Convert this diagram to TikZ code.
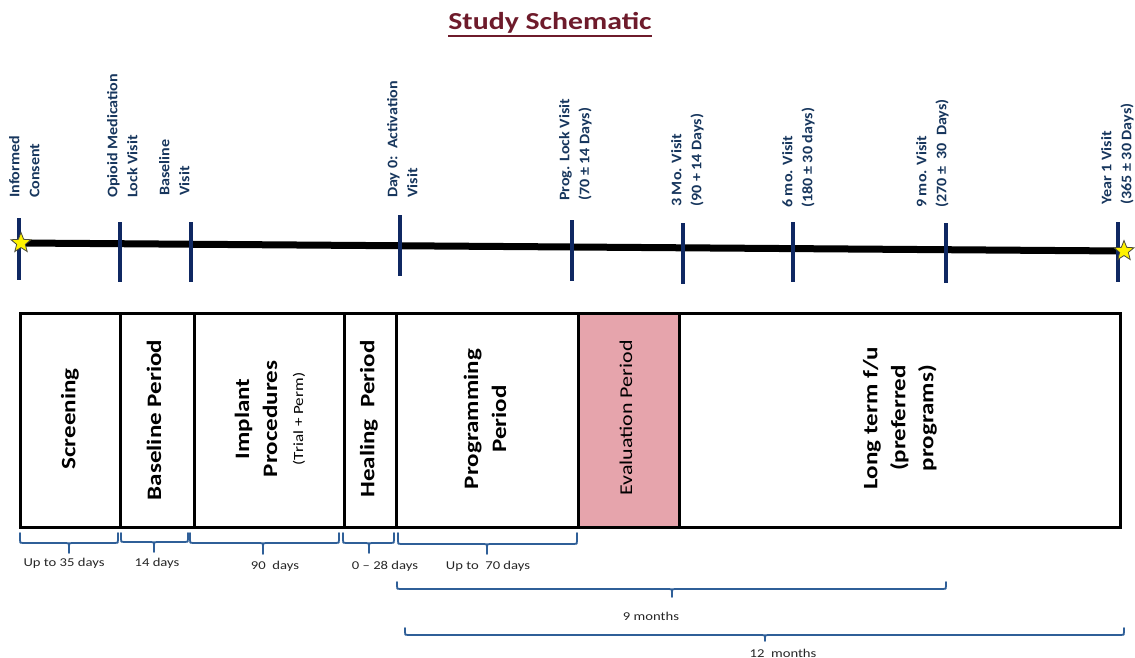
\documentclass[tikz,border=0pt]{standalone}
\usepackage{fontspec}
\setmainfont{Carlito}[FakeStretch=1.22]
\newfontfamily\vfont{Carlito}[FakeStretch=1.1]
\usetikzlibrary{shapes.geometric}
\definecolor{titlecol}{HTML}{6E1B2B}
\definecolor{navy}{HTML}{17365D}
\definecolor{tickcol}{HTML}{0F2862}
\definecolor{bracecol}{HTML}{2F5F98}
\definecolor{evalpink}{HTML}{E6A4AC}
\definecolor{txtgray}{HTML}{262626}
\definecolor{starline}{HTML}{4A4A3A}
% #1 x-left, #2 x-right, #3 x-tip, #4 y-end, #5 y-line, #6 y-tip
\newcommand\studybrace[6]{%
  \draw[bracestyle]
    (#1,#4) -- (#1,{#5-3}) .. controls (#1,#5) .. ({#1+3},#5)
    -- ({#3-3},#5) .. controls (#3,#5) .. (#3,{#5+3}) -- (#3,#6)
    -- (#3,{#5+3}) .. controls (#3,#5) .. ({#3+3},#5)
    -- ({#2-3},#5) .. controls (#2,#5) .. (#2,{#5-3}) -- (#2,#4);}
\begin{document}
\begin{tikzpicture}[x=1pt,y=-1pt,
  bracestyle/.style={draw=bracecol, line width=1.8pt, line join=round, line cap=round},
  tickln/.style={draw=tickcol, line width=4pt},
  vlbl/.style={rotate=90, anchor=north west, align=left, inner sep=0pt, text=navy,
    font=\vfont\bfseries\fontsize{14.6}{20}\selectfont},
  pbox/.style={draw=black, line width=3pt, minimum height=214pt, inner sep=0pt, anchor=north west},
  boxlbl/.style={rotate=90, align=center, inner sep=0pt,
    font=\bfseries\fontsize{20.5}{28}\selectfont},
  dlbl/.style={inner sep=0pt, text=txtgray, font=\fontsize{12}{14}\selectfont},
  starnode/.style={star, star points=5, star point ratio=2.3, fill=yellow, draw=starline,
    line width=0.8pt, minimum size=21pt, inner sep=0pt}]
\useasboundingbox (0,0) rectangle (1135,658);

% title
\node[anchor=base, inner sep=0pt, text=titlecol, font=\bfseries\fontsize{24.4}{28}\selectfont]
  (title) at (550,30) {Study Schematic};
\draw[titlecol, line width=1.6pt] ([yshift=-6pt]title.base west) -- ([yshift=-6pt]title.base east);

% timeline
\coordinate (tl0) at (21,243);
\coordinate (tl1) at (1124,251);
\draw[black, line width=7pt] (tl0) -- (tl1);
\draw[tickln] (19,218) -- (19,280);
\draw[tickln] (120,222) -- (120,282);
\draw[tickln] (191,222) -- (191,282);
\draw[tickln] (400,215) -- (400,276);
\draw[tickln] (572,220) -- (572,281);
\draw[tickln] (683,223) -- (683,284);
\draw[tickln] (793,222) -- (793,282);
\draw[tickln] (946,223) -- (946,283);
\draw[tickln] (1118,222) -- (1118,282);
\node[starnode] (s0) at (tl0) {};
\node[starnode] (s1) at (tl1) {};

% visit labels
\node[vlbl] (lic)   at (9,198)    {Informed\\Consent};
\node[vlbl] (lop)   at (107,198)  {Opioid Medication\\Lock Visit};
\node[vlbl] (lba)   at (159,196)  {Baseline\\Visit};
\node[vlbl] (lday)  at (387,198)  {Day 0:\ \ Activation\\Visit};
\node[vlbl] (lprog) at (559,201)  {Prog. Lock Visit\\(70 ± 14 Days)};
\node[vlbl] (l3)    at (671,207)  {3 Mo. Visit\\(90 + 14 Days)};
\node[vlbl] (l6)    at (782,208)  {6 mo. Visit\\(180 ± 30 days)};
\node[vlbl] (l9)    at (916,208)  {9 mo. Visit\\(270 ±\ \ 30\ \ Days)};
\node[vlbl] (ly)    at (1101,205) {Year 1 Visit\\(365 ± 30 Days)};

% period boxes
\node[pbox, minimum width=100pt] (screen) at (19,312) {};
\node[pbox, minimum width=74pt]  (base)   at (119,312) {};
\node[pbox, minimum width=150pt] (impl)   at (193,312) {};
\node[pbox, minimum width=52pt]  (heal)   at (343,312) {};
\node[pbox, minimum width=182pt] (prog)   at (395,312) {};
\node[pbox, minimum width=441pt] (long)   at (678,312) {};
\node[pbox, minimum width=101pt, fill=evalpink] (eval) at (577,312) {};

\node[boxlbl] (tscreen) at (70,419)  {Screening};
\node[boxlbl] (tbase)   at (154,420) {Baseline Period};
\node[boxlbl] (timpl)   at (270,419) {Implant\\Procedures\\[-2pt]{\mdseries\fontsize{14}{16}\selectfont(Trial + Perm)}};
\node[boxlbl] (theal)   at (369,419) {Healing\ \ Period};
\node[boxlbl] (tprog)   at (485,419) {Programming\\Period};
\node[boxlbl, font=\mdseries\fontsize{18}{24}\selectfont] (teval) at (626,418) {Evaluation Period};
\node[boxlbl] (tlong)   at (900,418) {Long term f/u\\(preferred\\programs)};

% duration braces
\studybrace{20}{118}{69}{533}{543}{553}
\studybrace{121}{188}{154}{533}{542}{552}
\studybrace{190}{339}{263}{533}{543}{554}
\studybrace{343}{394}{369}{533}{543}{553}
\studybrace{398}{577}{487}{533}{544}{554}
\studybrace{397}{946}{672}{582}{589}{597}
\studybrace{405}{1124}{765}{628}{635}{641}

\node[dlbl] (d1) at (64,563)  {Up to 35 days};
\node[dlbl] (d2) at (157,563) {14 days};
\node[dlbl] (d3) at (275,566) {90\ \ days};
\node[dlbl] (d4) at (385,566) {0 – 28 days};
\node[dlbl] (d5) at (488,566) {Up to\ \ 70 days};
\node[dlbl] (d6) at (651,616) {9 months};
\node[dlbl] (d7) at (783,653) {12\ \ months};
\end{tikzpicture}
\end{document}
